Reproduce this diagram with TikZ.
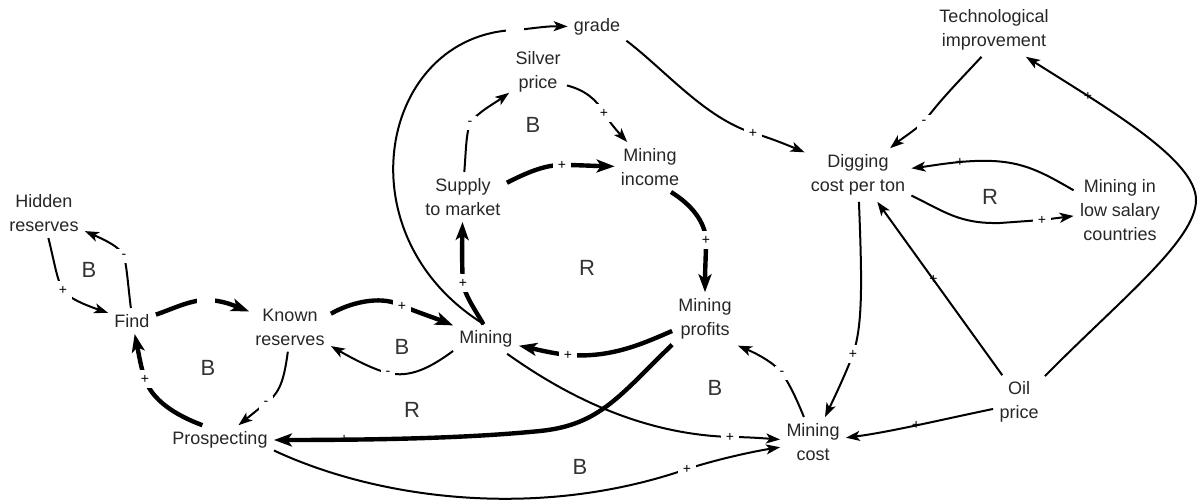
\documentclass[tikz,border=0pt]{standalone}
\usepackage{fontspec}
\setmainfont{Liberation Sans}
\usetikzlibrary{arrows.meta}
\begin{document}
\begin{tikzpicture}[x=0.5pt,y=-0.5pt,
  var/.style={font=\fontsize{9}{12}\selectfont, align=center, inner sep=3pt, text=black!85},
  link/.style={-{Stealth[length=7pt,width=5pt,inset=1.8pt]}, line width=1pt},
  strong/.style={-{Stealth[length=9pt,width=6.5pt,inset=2.2pt]}, line width=2.2pt},
  pol/.style={fill=white, inner sep=2.5pt, font=\fontsize{7}{8}\selectfont},
  polon/.style={inner sep=0pt, font=\fontsize{7}{8}\selectfont},
  gap/.style={fill=white, minimum width=9pt, minimum height=6pt, inner sep=0pt},
  loopmark/.style={font=\fontsize{11}{13}\selectfont, text=black!80}]
\useasboundingbox (0,0) rectangle (1198,501);

% variables
\node[var] (hid)     at (44,213)  {Hidden\\reserves};
\node[var] (find)    at (132,321) {Find};
\node[var] (known)   at (290,327) {Known\\reserves};
\node[var] (mining)  at (486,339) {Mining};
\node[var] (prosp)   at (220,440) {Prospecting};
\node[var] (supply)  at (463,197) {Supply\\to market};
\node[var] (silver)  at (538,72)  {Silver\\price};
\node[var] (grade)   at (597,27)  {grade};
\node[var] (income)  at (650,167) {Mining\\income};
\node[var] (profits) at (705,319) {Mining\\profits};
\node[var] (digging) at (858,175) {Digging\\cost per ton};
\node[var] (tech)    at (994,30)  {Technological\\improvement};
\node[var] (lowsal)  at (1120,210) {Mining in\\low salary\\countries};
\node[var] (oil)     at (1019,402) {Oil\\price};
\node[var] (mcost)   at (813,442) {Mining\\cost};

% loop markers
\node[loopmark] (l1) at (89,270)  {B};
\node[loopmark] (l2) at (208,368) {B};
\node[loopmark] (l3) at (402,347) {B};
\node[loopmark] (l4) at (412,410) {R};
\node[loopmark] (l5) at (533,125) {B};
\node[loopmark] (l6) at (587,268) {R};
\node[loopmark] (l7) at (715,388) {B};
\node[loopmark] (l8) at (580,467) {B};
\node[loopmark] (l9) at (990,197) {R};

% exploration loop
\draw[link] (hid.-80) .. controls (55,265) and (57,280) .. (63,290) node[pol]{+}
  .. controls (68,298) and (85,305) .. (find);
\draw[link] (find.95) .. controls (128,285) and (127,268) .. (124,256) node[pol]{-}
  .. controls (120,247) and (105,240) .. (hid);
\draw[strong] (find.15) .. controls (170,310) and (190,300) .. (206,300) node[gap]{}
  .. controls (222,300) and (235,306) .. (known);
\draw[strong] (known.18) .. controls (355,300) and (385,296) .. (402,306) node[pol]{+}
  .. controls (420,313) and (440,320) .. (mining);
\draw[link] (mining.200) .. controls (430,368) and (410,378) .. (388,373) node[pol]{-}
  .. controls (375,370) and (355,360) .. (known.-25);
\draw[link] (known.-95) .. controls (284,380) and (280,393) .. (266,403) node[pol]{-}
  .. controls (256,411) and (245,420) .. (prosp);
\draw[strong] (prosp.140) .. controls (175,415) and (152,400) .. (145,379) node[pol]{+}
  .. controls (141,368) and (139,355) .. (find);

% market loop
\draw[strong] (mining.100) .. controls (472,305) and (465,295) .. (463,283) node[pol]{+}
  .. controls (462,270) and (462,250) .. (supply);
\draw[link] (supply.87) .. controls (466,150) and (466,135) .. (470,123) node[pol]{-}
  .. controls (478,112) and (495,103) .. (silver);
\draw[link] (silver.-25) .. controls (585,90) and (597,100) .. (604,113) node[pol]{+}
  .. controls (610,123) and (618,132) .. (income);
\draw[strong] (supply.18) .. controls (528,172) and (545,165) .. (562,165) node[pol]{+}
  .. controls (578,165) and (595,166) .. (income);
\draw[strong] (income.-50) .. controls (692,205) and (705,222) .. (706,240) node[pol]{+}
  .. controls (706,255) and (705,270) .. (profits);
\draw[strong] (profits.200) .. controls (640,345) and (610,358) .. (568,355) node[pol]{+}
  .. controls (550,353) and (535,349) .. (mining);
\draw[link] (mining.98) .. controls (340,235) and (380,35) .. (515,30) node[gap]{}
  .. controls (530,29) and (545,26) .. (grade);

% cost side
\draw[link] (grade.-25) .. controls (665,70) and (705,118) .. (753,133) node[pol]{+}
  .. controls (770,138) and (785,144) .. (digging);
\draw[link] (tech.-115) .. controls (960,80) and (940,100) .. (924,122) node[pol]{-}
  .. controls (915,130) and (900,140) .. (digging);
\draw[link] (lowsal.157) .. controls (1035,168) and (1015,157) .. (960,162) node[polon]{+}
  .. controls (940,164) and (930,166) .. (digging);
\draw[link] (digging.-21) .. controls (945,212) and (960,224) .. (1000,223)
  -- (1042,220) node[pol]{+} -- (lowsal);
\draw[link] (oil.45) .. controls (1120,300) and (1196,240) .. (1196,200)
  .. controls (1196,160) and (1110,110) .. node[polon,pos=0.75]{+} (tech.-40);
\draw[link] (oil.122) -- node[polon,pos=0.55]{+} (digging);
\draw[link] (digging.-88) .. controls (862,280) and (863,325) .. (853,354) node[pol]{+}
  .. controls (848,368) and (838,390) .. (mcost);
\draw[link] (oil.195) .. controls (940,420) and (890,432) .. node[polon,pos=0.5]{+} (mcost);
\draw[link] (mcost.110) .. controls (797,400) and (790,385) .. (782,373) node[pol]{-}
  .. controls (775,364) and (760,355) .. (profits.-39);
\draw[link] (mining.-35) .. controls (565,395) and (640,434) .. (730,437) node[pol]{+}
  .. controls (745,437) and (760,438) .. (mcost);
\draw[link] (prosp.-11) .. controls (380,500) and (540,520) .. (687,469) node[pol]{+}
  .. controls (715,460) and (750,452) .. (mcost);
\draw[strong] (profits.-142) .. controls (620,395) and (600,425) .. (540,431)
  .. controls (480,437) and (400,440) .. node[polon,pos=0.8]{+} (prosp);
\end{tikzpicture}
\end{document}
